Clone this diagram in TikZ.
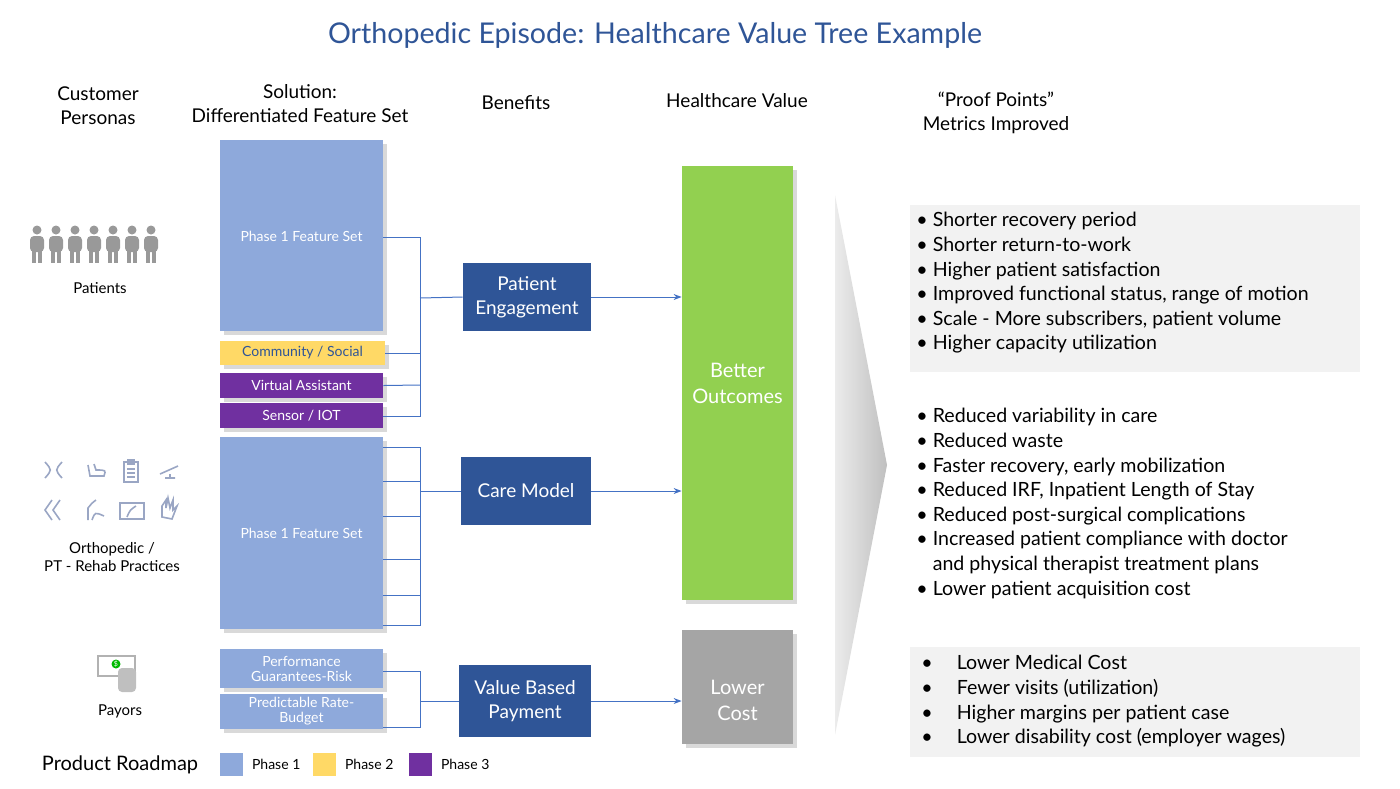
\documentclass[tikz,border=0pt]{standalone}
\usepackage{fontspec}
\setmainfont{Lato}
\usetikzlibrary{shadows,arrows.meta}
\definecolor{tblue}{HTML}{2F5597}
\definecolor{lblue}{HTML}{8EA9DB}
\definecolor{cblue}{HTML}{4472C4}
\definecolor{yel}{HTML}{FFD966}
\definecolor{purp}{HTML}{7030A0}
\definecolor{grn}{HTML}{92D050}
\definecolor{gry}{HTML}{A5A5A5}
\definecolor{lgry}{HTML}{F2F2F2}
\definecolor{icon}{HTML}{9AA6C4}
\tikzset{
 feat/.style={draw=none,fill=lblue,text=white,align=center,font=\fontsize{7}{8}\selectfont,drop shadow={opacity=0.3,shadow xshift=2pt,shadow yshift=-2pt},inner sep=0pt},
 ben/.style={fill=tblue,text=white,align=center,font=\fontsize{9.5}{12}\selectfont,inner sep=0pt},
 val/.style={text=white,align=center,font=\fontsize{10}{13}\selectfont,inner sep=0pt,drop shadow={opacity=0.3,shadow xshift=2pt,shadow yshift=-2pt}},
 hdr/.style={align=center,font=\fontsize{9.5}{12}\selectfont},
 wire/.style={draw=cblue,line width=0.5pt},
 arr/.style={wire,-{Stealth[length=4pt]}},
 blist/.style={anchor=north west,align=left,font=\fontsize{9.8}{12.3}\selectfont,inner sep=0pt},
}
\newcommand{\person}[2]{\fill[gray!80] (#1,#2) circle (4.5);
 \fill[gray!80,rounded corners=2] (#1-7,#2+6) rectangle (#1+7,#2+22);
 \fill[gray!80] (#1-5,#2+20) rectangle (#1-1,#2+33);
 \fill[gray!80] (#1+1,#2+20) rectangle (#1+5,#2+33);}
\begin{document}
\begin{tikzpicture}[x=0.5pt,y=-0.5pt]
\useasboundingbox (0,0) rectangle (1400,788);
\node[text=tblue,font=\fontsize{14.3}{16}\selectfont] (title) at (655,35) {Orthopedic Episode: Healthcare Value Tree Example};
\node[hdr] (h1) at (98,106) {Customer\\Personas};
\node[hdr] (h2) at (300,104) {Solution:\\Differentiated Feature Set};
\node[hdr] (h3) at (516,103) {Benefits};
\node[hdr] (h4) at (737,101) {Healthcare Value};
\node[hdr] (h5) at (996,113) {“Proof Points”\\Metrics Improved};
% personas
\foreach \i in {0,...,6} {\person{37+\i*19}{230}}
\node[font=\fontsize{7.5}{9}\selectfont] (pat) at (100,288) {Patients};
\begin{scope}[icon,line width=0.8pt]
\draw (45,462) .. controls (52,470) .. (45,478); \draw (62,462) .. controls (55,470) .. (62,478);
\draw (88,465) -- (90,476) -- (104,476) .. controls (106,470) .. (96,470) -- (94,464);
\draw (124,462) rectangle (138,482); \draw (128,460) rectangle (134,464); \draw (127,469)--(135,469) (127,473)--(135,473) (127,477)--(135,477);
\draw (160,474) -- (178,466) (165,478) -- (175,478) (170,474)--(170,478);
\draw (52,500) -- (45,510) -- (52,520) (60,500) -- (53,510) -- (60,520);
\draw (88,520) -- (88,508) .. controls (92,503) .. (96,500) (92,520) .. controls (95,512) .. (104,516);
\draw (120,503) rectangle (144,519); \draw (127,517) .. controls (130,510) .. (136,506);
\draw (162,517) -- (162,506) -- (166,500) -- (166,508) -- (168,498) -- (170,508) -- (173,500) -- (173,510) -- (177,506) -- (172,519) -- cycle;
\end{scope}
\node[font=\fontsize{7.5}{9}\selectfont,align=center] (ortho) at (112,557) {Orthopedic /\\PT - Rehab Practices};
\draw[gray!60,line width=0.8pt,fill=white] (98,656) rectangle (135,676);
\fill[green!55!black!60!green] (116,664) circle (4.5);
\node[white,font=\fontsize{3.5}{4}\selectfont] (dol) at (116,664) {\$};
\fill[gray!50,rounded corners=2] (118,668) rectangle (136,692);
\node[font=\fontsize{7.5}{9}\selectfont] (pay) at (120,711) {Payors};
% features
\node[feat,minimum width=81.5pt,minimum height=95.5pt] (p1) at (301.5,235.5) {};
\node[text=white,font=\fontsize{7}{8}\selectfont,inner sep=0pt] (p1t) at (301.5,236) {Phase 1 Feature Set};
\node[feat,fill=yel,text=tblue,minimum width=82.5pt,minimum height=12pt] (cs) at (302.5,353) {Community / Social};
\node[feat,fill=purp,minimum width=81.5pt,minimum height=12.5pt] (va) at (301.5,385.5) {Virtual Assistant};
\node[feat,fill=purp,minimum width=81.5pt,minimum height=12.5pt] (si) at (301.5,415.5) {Sensor / IOT};
\node[feat,minimum width=81.5pt,minimum height=96pt] (p2) at (301.5,533) {Phase 1 Feature Set};
\node[feat,minimum width=81.5pt,minimum height=19.5pt,font=\fontsize{7}{7.5}\selectfont] (pg) at (301.5,668.5) {Performance\\Guarantees-Risk};
\node[feat,minimum width=81.5pt,minimum height=17.5pt,font=\fontsize{7}{7.5}\selectfont] (pr) at (301.5,711.5) {Predictable Rate-\\Budget};
% benefits
\node[ben,minimum width=64pt,minimum height=34pt] (pe) at (527,297) {Patient\\Engagement};
\node[ben,minimum width=65pt,minimum height=34pt] (cm) at (526,491) {Care Model};
\node[ben,minimum width=66pt,minimum height=36pt] (vb) at (525,701) {Value Based\\Payment};
% values
\node[val,fill=grn,minimum width=55.5pt,minimum height=217pt] (bo) at (737.5,383) {Better\\Outcomes};
\node[val,fill=gry,minimum width=55.5pt,minimum height=57pt] (lc) at (737.5,687) {};
\node[text=white,align=center,font=\fontsize{10}{13}\selectfont,inner sep=0pt] (lct) at (737.5,700) {Lower\\Cost};
% wires group 1
\coordinate (b1) at (420,298);
\draw[wire] (p1.east |- 0,237) -| (420,416) -- (si.east |- 0,416);
\draw[wire] (cs.east) -- (420,353);
\draw[wire] (va.east) -- (420,385);
\draw[wire] (b1) -- (pe.west);
\draw[arr] (pe.east) -- (bo.west |- pe.east);
% group 2
\coordinate (b2) at (420,491);
\draw[wire] (p2.east |- 0,447) -| (420,625) -- (p2.east |- 0,625);
\foreach \y in {481,516,559,595} \draw[wire] (p2.east |- 0,\y) -- (420,\y);
\draw[wire] (b2) -- (cm.west);
\draw[arr] (cm.east) -- (bo.west |- cm.east);
% group 3
\coordinate (b3) at (420,701);
\draw[wire] (pg.east |- 0,671) -| (420,727) -- (pr.east |- 0,727);
\draw[wire] (b3) -- (vb.west);
\draw[arr] (vb.east) -- (lc.west |- vb.east);
% chevron
\shade[left color=gray!15,right color=gray!50] (835,195) -- (887,465) -- (835,735) -- cycle;
% proof boxes
\fill[lgry] (910,205) rectangle (1360,372);
\fill[lgry] (910,647) rectangle (1360,757);
\node[blist] (l1) at (916,212) {• Shorter recovery period\\• Shorter return-to-work\\• Higher patient satisfaction\\• Improved functional status, range of motion\\• Scale - More subscribers, patient volume\\• Higher capacity utilization};
\node[blist] (l2) at (916,408) {• Reduced variability in care\\• Reduced waste\\• Faster recovery, early mobilization\\• Reduced IRF, Inpatient Length of Stay\\• Reduced post-surgical complications\\• Increased patient compliance with doctor\\\phantom{• }and physical therapist treatment plans\\• Lower patient acquisition cost};
\node[blist] (l3) at (921,655) {•\hspace{12pt}Lower Medical Cost\\•\hspace{12pt}Fewer visits (utilization)\\•\hspace{12pt}Higher margins per patient case\\•\hspace{12pt}Lower disability cost (employer wages)};
% legend
\node[font=\fontsize{10}{12}\selectfont] (pr0) at (120,765) {Product Roadmap};
\fill[lblue] (220,753) rectangle (243,776); \node[anchor=west,font=\fontsize{7}{8}\selectfont] (lg1) at (245,764) {Phase 1};
\fill[yel] (313,753) rectangle (336,776); \node[anchor=west,font=\fontsize{7}{8}\selectfont] (lg2) at (338,764) {Phase 2};
\fill[purp] (409,753) rectangle (432,776); \node[anchor=west,font=\fontsize{7}{8}\selectfont] (lg3) at (434,764) {Phase 3};
\end{tikzpicture}
\end{document}
